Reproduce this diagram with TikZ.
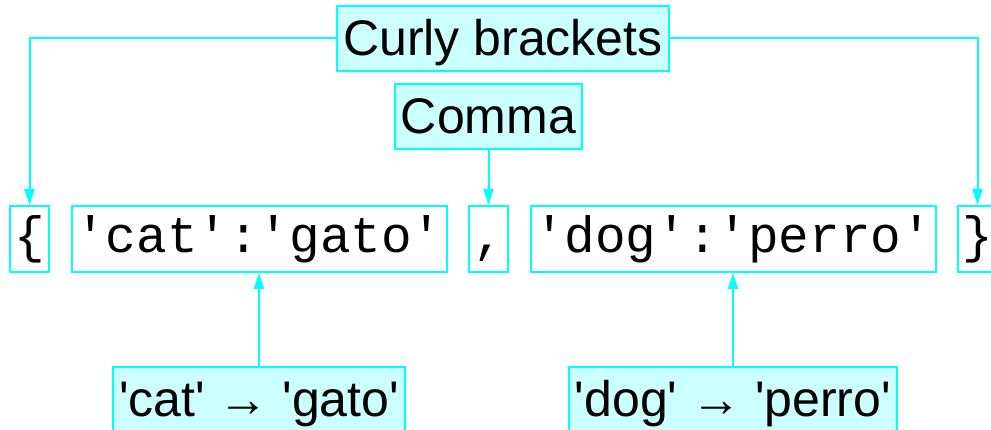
\documentclass[tikz,border=0pt]{standalone}
\usepackage{fontspec}
\setmainfont{Liberation Sans}[Ligatures=TeXOff]
\setmonofont{Liberation Mono}[Ligatures=TeXOff]
\usepackage{xcolor}
\usepackage{tikz}
\usetikzlibrary{arrows.meta,positioning}
\definecolor{brdcyan}{RGB}{0,255,255}
\definecolor{fillcyan}{RGB}{204,255,255}

\begin{document}
\begin{tikzpicture}[x=1pt,y=-1pt,
  lbl/.style={draw=brdcyan,line width=2pt,fill=fillcyan,inner xsep=6pt,minimum height=65pt,
    text height=35pt,text depth=0pt,font=\fontsize{50}{60}\selectfont},
  code/.style={draw=brdcyan,line width=2pt,fill=white,inner xsep=2pt,minimum width=#1,minimum height=66pt,
    text height=28pt,text depth=0pt,font=\ttfamily\fontsize{51}{60}\selectfont},
  code/.default=39pt,
  arr/.style={-{Triangle[length=16pt,width=10pt]},brdcyan,line width=2pt},
  node distance=20.5pt]
  \useasboundingbox (0,0) rectangle (991,430);
  \node[code] (lbrace) at (29.5,239) {\{};
  \node[code=375pt,right=of lbrace] (catpair) {'cat':'gato'};
  \node[code,right=of catpair] (comma) {,};
  \node[code=405pt,right=of comma] (dogpair) {'dog':'perro'};
  \node[code,right=of dogpair] (rbrace) {\}};
  \node[lbl,above=55pt of comma] (commalbl) {Comma};
  \node[lbl] (curly) at (503,38.5) {Curly brackets};
  \node[lbl,below=93pt of catpair] (catlbl) {'cat' → 'gato'};
  \node[lbl,below=93pt of dogpair] (doglbl) {'dog' → 'perro'};
  \draw[arr] (curly.west) -| (lbrace.north);
  \draw[arr] (curly.east) -| (rbrace.north);
  \draw[arr] (commalbl) -- (comma);
  \draw[arr] (catlbl) -- (catpair);
  \draw[arr] (doglbl) -- (dogpair);
\end{tikzpicture}
\end{document}
